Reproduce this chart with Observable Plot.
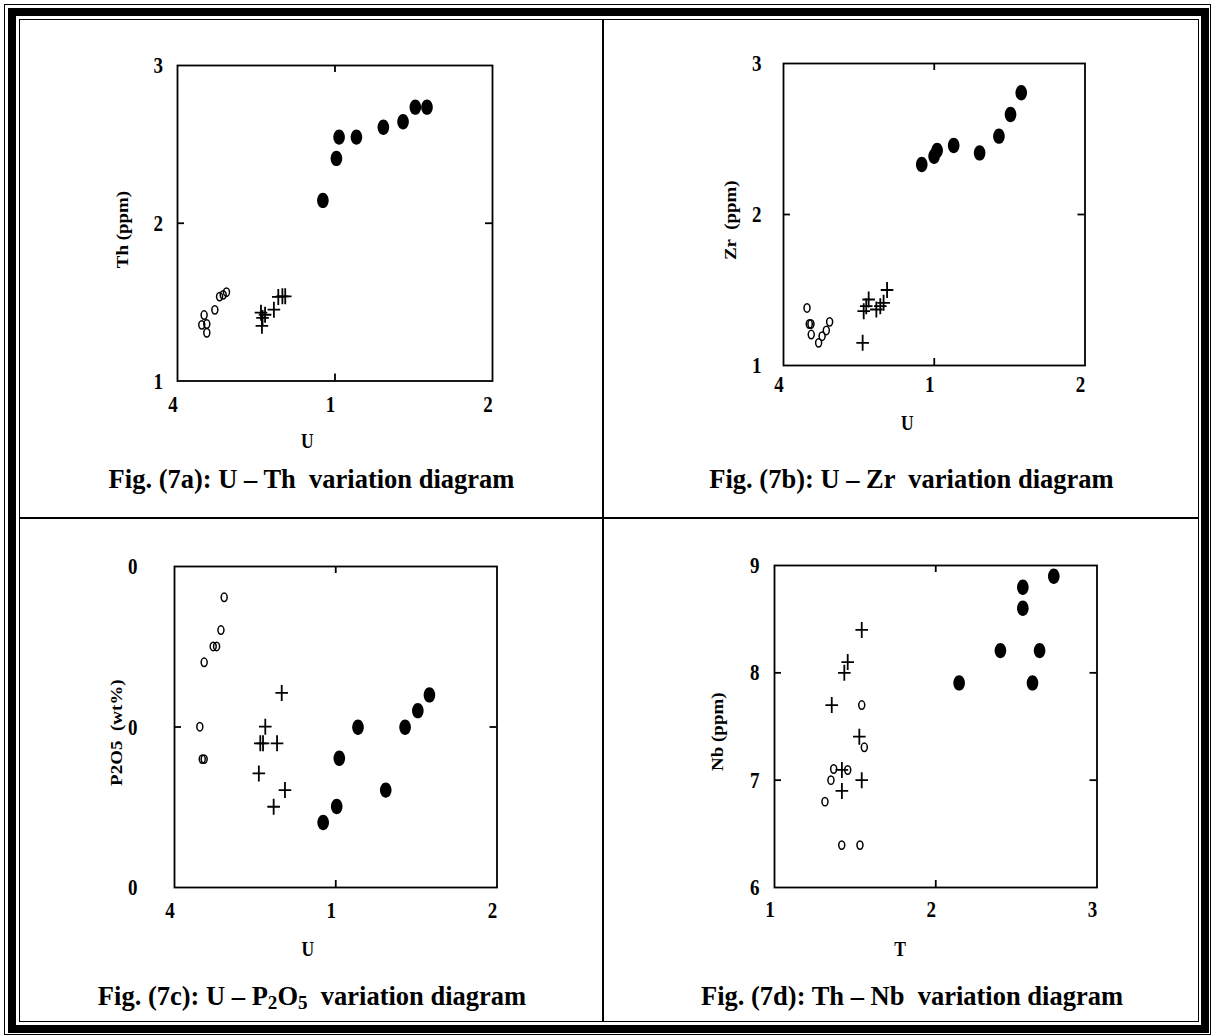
<!DOCTYPE html>
<html>
<head>
<meta charset="utf-8">
<script src="https://cdn.jsdelivr.net/npm/d3@7"></script>
<script src="https://cdn.jsdelivr.net/npm/@observablehq/plot@0.6"></script>
<style>
  html, body { margin: 0; padding: 0; background: #fff; }
  #page { position: relative; width: 1211px; height: 1035px; overflow: hidden; background: #fff;
          font-family: "Liberation Serif", "Times New Roman", serif; font-weight: bold; color: #000; }
  .ln { position: absolute; box-sizing: border-box; border-style: solid; border-color: #000; z-index: 5; }
  .bar { position: absolute; background: #000; z-index: 5; }
  .cap { position: absolute; font-size: 26.5px; line-height: 1; white-space: pre; transform: translateX(-50%); }
  .cap sub { font-size: 0.72em; vertical-align: -0.22em; line-height: 0; }
  .panel { position: absolute; }
  .panel svg { max-width: none; display: block; overflow: visible; }
  .panel text { white-space: pre; }
</style>
</head>
<body>
<div id="page">
  <div class="ln" style="left:4px;top:4px;width:1207px;height:1031px;border-width:1.5px;"></div>
  <div class="ln" style="left:7.5px;top:7.5px;width:1201px;height:1025.5px;border-width:8.5px;"></div>
  <div class="ln" style="left:18.5px;top:18.5px;width:1180px;height:1003.5px;border-width:1.5px;"></div>
  <div class="bar" style="left:601.5px;top:19px;width:2px;height:1002px;"></div>
  <div class="bar" style="left:19px;top:517px;width:1179px;height:2px;"></div>

  <div class="cap" style="left:311.5px;top:465.5px;">Fig. (7a): U – Th  variation diagram</div>
  <div class="cap" style="left:911.5px;top:465.5px;">Fig. (7b): U – Zr  variation diagram</div>
  <div class="cap" style="left:312px;top:982.5px;">Fig. (7c): U – P<sub>2</sub>O<sub>5</sub>  variation diagram</div>
  <div class="cap" style="left:912px;top:982.5px;">Fig. (7d): Th – Nb  variation diagram</div>
</div>
<script>
// ---------- Tick values and their printed labels ----------
const uTickValues = [0, 1, 2];
const uTickLabels = ["4", "1", "2"];
const thTickValues = [1, 2, 3];
const thTickLabels = ["1", "2", "3"];
const zrTickValues = [1, 2, 3];
const zrTickLabels = ["1", "2", "3"];
const p2o5TickValues = [0, 1, 2];
const p2o5TickLabels = ["0", "0", "0"];
const thXTickValues = [1, 2, 3];
const thXTickLabels = ["1", "2", "3"];
const nbTickValues = [6, 7, 8, 9];
const nbTickLabels = ["6", "7", "8", "9"];

// ---------- Fig. 7a : U – Th ----------
const a_solid_U  = [0.923, 1.009, 1.026, 1.136, 1.307, 1.432, 1.510, 1.584];
const a_solid_Th = [2.145, 2.411, 2.546, 2.546, 2.609, 2.643, 2.736, 2.736];
const a_open_U   = [0.169, 0.154, 0.186, 0.186, 0.237, 0.267, 0.290, 0.311];
const a_open_Th  = [1.418, 1.356, 1.361, 1.306, 1.451, 1.535, 1.546, 1.563];
const a_cross_U  = [0.530, 0.556, 0.540, 0.536, 0.612, 0.640, 0.666, 0.684];
const a_cross_Th = [1.433, 1.420, 1.400, 1.350, 1.452, 1.533, 1.537, 1.537];

// ---------- Fig. 7b : U – Zr ----------
const b_solid_U  = [0.917, 0.999, 1.019, 1.129, 1.301, 1.429, 1.506, 1.577];
const b_solid_Zr = [2.331, 2.386, 2.424, 2.457, 2.408, 2.519, 2.662, 2.806];
const b_open_U   = [0.156, 0.171, 0.182, 0.184, 0.233, 0.256, 0.284, 0.306];
const b_open_Zr  = [1.381, 1.275, 1.275, 1.205, 1.150, 1.194, 1.232, 1.289];
const b_cross_U  = [0.525, 0.532, 0.549, 0.565, 0.616, 0.642, 0.664, 0.687];
const b_cross_Zr = [1.150, 1.360, 1.393, 1.437, 1.371, 1.393, 1.415, 1.500];

// ---------- Fig. 7c : U – P2O5 ----------
const c_solid_U    = [0.922, 1.006, 1.022, 1.138, 1.310, 1.430, 1.509, 1.581];
const c_solid_P2O5 = [0.405, 0.505, 0.805, 0.998, 0.607, 0.998, 1.102, 1.200];
const c_open_U     = [0.308, 0.288, 0.240, 0.261, 0.184, 0.157, 0.172, 0.184];
const c_open_P2O5  = [1.808, 1.604, 1.502, 1.502, 1.403, 1.002, 0.800, 0.800];
const c_cross_U    = [0.665, 0.563, 0.532, 0.549, 0.636, 0.523, 0.685, 0.615];
const c_cross_P2O5 = [1.212, 1.002, 0.898, 0.898, 0.898, 0.711, 0.607, 0.503];

// ---------- Fig. 7d : Th – Nb ----------
const d_solid_Th = [2.145, 2.401, 2.540, 2.540, 2.644, 2.600, 2.732];
const d_solid_Nb = [7.906, 8.207, 8.798, 8.602, 8.207, 7.906, 8.900];
const d_open_Th  = [1.541, 1.557, 1.367, 1.454, 1.350, 1.313, 1.417, 1.530];
const d_open_Nb  = [7.700, 7.306, 7.104, 7.095, 7.000, 6.800, 6.395, 6.395];
const d_cross_Th = [1.541, 1.454, 1.433, 1.355, 1.526, 1.418, 1.541, 1.418];
const d_cross_Nb = [8.400, 8.100, 8.000, 7.700, 7.405, 7.095, 7.000, 6.900];

// ---------- symbols (vertically stretched like the source figure) ----------
function ellipseSymbol(rx, ry) {
  return {
    draw(ctx) {
      const k = 0.5523;
      ctx.moveTo(rx, 0);
      ctx.bezierCurveTo(rx, ry * k, rx * k, ry, 0, ry);
      ctx.bezierCurveTo(-rx * k, ry, -rx, ry * k, -rx, 0);
      ctx.bezierCurveTo(-rx, -ry * k, -rx * k, -ry, 0, -ry);
      ctx.bezierCurveTo(rx * k, -ry, rx, -ry * k, rx, 0);
      ctx.closePath();
    }
  };
}
function crossSymbol(hw, hh) {
  return {
    draw(ctx) {
      ctx.moveTo(-hw, 0); ctx.lineTo(hw, 0);
      ctx.moveTo(0, -hh); ctx.lineTo(0, hh);
    }
  };
}
const solidSym = ellipseSymbol(5.8, 7.7);
const openSym = ellipseSymbol(3.0, 4.2);
const crossSym = crossSymbol(6.3, 8);

const FONT = '"Liberation Serif", "Times New Roman", serif';
const mL = 90, mR = 20, mT = 20, mB = 80;
const TICK = 7;

function panel(cfg) {
  const W = cfg.w + mL + mR, H = cfg.h + mT + mB;
  const fmt = (vals, labs) => (d) => labs[vals.indexOf(d)];
  const plot = Plot.plot({
    width: W, height: H,
    marginLeft: mL, marginRight: mR, marginTop: mT, marginBottom: mB,
    x: {domain: cfg.xDomain, axis: null},
    y: {domain: cfg.yDomain, axis: null},
    style: {fontFamily: FONT, fontWeight: "bold", fontSize: "19px", color: "#000", background: "transparent", overflow: "visible"},
    marks: [
      // inward middle ticks on all four sides
      Plot.tickX(cfg.xMid, {x: (d) => d, insetTop: cfg.h - TICK, stroke: "#000", strokeWidth: 1.8}),
      Plot.tickX(cfg.xMid, {x: (d) => d, insetBottom: cfg.h - TICK, stroke: "#000", strokeWidth: 1.8}),
      Plot.tickY(cfg.yMid, {y: (d) => d, insetRight: cfg.w - TICK, stroke: "#000", strokeWidth: 1.8}),
      Plot.tickY(cfg.yMid, {y: (d) => d, insetLeft: cfg.w - TICK, stroke: "#000", strokeWidth: 1.8}),
      // tick labels
      Plot.axisX(cfg.xTicks, {anchor: "bottom", tickSize: 0, tickPadding: cfg.xPad, dx: -4.5,
        tickFormat: fmt(cfg.xTicks, cfg.xLabels), label: null, fontSize: 19}),
      Plot.axisY(cfg.yTicks, {anchor: "left", tickSize: 0, tickPadding: cfg.yPad,
        tickFormat: fmt(cfg.yTicks, cfg.yLabels), label: null, fontSize: 19}),
      // axis titles
      Plot.text([cfg.xTitle], {frameAnchor: "bottom", textAnchor: "middle", lineAnchor: "middle",
        dx: cfg.xtDx, dy: cfg.xtDy, fontSize: 17.5, fontWeight: "bold"}),
      Plot.text([cfg.yTitle], {frameAnchor: "left", textAnchor: "middle", lineAnchor: "middle", rotate: -90,
        dx: cfg.ytDx, dy: cfg.ytDy, fontSize: 16.5, fontWeight: "bold"}),
      Plot.frame({stroke: "#000", strokeWidth: 1.8}),
      // data
      Plot.dot(d3.zip(cfg.open[0], cfg.open[1]), {symbol: openSym, fill: "none", stroke: "#000", strokeWidth: 1.5}),
      Plot.dot(d3.zip(cfg.cross[0], cfg.cross[1]), {symbol: crossSym, fill: "none", stroke: "#000", strokeWidth: 1.8}),
      Plot.dot(d3.zip(cfg.solid[0], cfg.solid[1]), {symbol: solidSym, fill: "#000", stroke: "none"})
    ]
  });
  // the source figure's text is stretched vertically on the page
  plot.querySelectorAll("text").forEach((t) => {
    const tr = t.getAttribute("transform") || "";
    const rotated = t.textContent === cfg.yTitle || /rotate/.test(tr);
    t.setAttribute("transform", tr + (rotated ? " scale(1.15,1)" : " scale(1,1.25)"));
  });
  const div = document.createElement("div");
  div.className = "panel";
  div.style.left = (cfg.left - mL) + "px";
  div.style.top = (cfg.top - mT) + "px";
  div.style.width = W + "px";
  div.style.height = H + "px";
  div.appendChild(plot);
  document.getElementById("page").appendChild(div);
}

panel({
  left: 177, top: 64.5, w: 315, h: 315.5,
  xDomain: [0, 2], yDomain: [1, 3],
  xTicks: uTickValues, xLabels: uTickLabels, yTicks: thTickValues, yLabels: thTickLabels,
  xMid: [1], yMid: [2], xPad: 14, yPad: 14.5,
  xTitle: "U", xtDx: -27.6, xtDy: 60,
  yTitle: "Th (ppm)", ytDx: -55, ytDy: 6.3,
  solid: [a_solid_U, a_solid_Th], open: [a_open_U, a_open_Th], cross: [a_cross_U, a_cross_Th]
});
panel({
  left: 783, top: 62.5, w: 301.5, h: 302,
  xDomain: [0, 2], yDomain: [1, 3],
  xTicks: uTickValues, xLabels: uTickLabels, yTicks: zrTickValues, yLabels: zrTickLabels,
  xMid: [1], yMid: [2], xPad: 10, yPad: 22,
  xTitle: "U", xtDx: -26.9, xtDy: 57.4,
  yTitle: "Zr  (ppm)", ytDx: -53, ytDy: 5.7,
  solid: [b_solid_U, b_solid_Zr], open: [b_open_U, b_open_Zr], cross: [b_cross_U, b_cross_Zr]
});
panel({
  left: 174, top: 566, w: 322.5, h: 321,
  xDomain: [0, 2], yDomain: [0, 2],
  xTicks: uTickValues, xLabels: uTickLabels, yTicks: p2o5TickValues, yLabels: p2o5TickLabels,
  xMid: [1], yMid: [1], xPad: 14, yPad: 37,
  xTitle: "U", xtDx: -28, xtDy: 61.3,
  yTitle: "P2O5  (wt%)", ytDx: -58, ytDy: 5.7,
  solid: [c_solid_U, c_solid_P2O5], open: [c_open_U, c_open_P2O5], cross: [c_cross_U, c_cross_P2O5]
});
panel({
  left: 774, top: 565, w: 322.5, h: 322,
  xDomain: [1, 3], yDomain: [6, 9],
  xTicks: thXTickValues, xLabels: thXTickLabels, yTicks: nbTickValues, yLabels: nbTickLabels,
  xMid: [2], yMid: [7, 8], xPad: 12.5, yPad: 15,
  xTitle: "T", xtDx: -35.6, xtDy: 61.3,
  yTitle: "Nb (ppm)", ytDx: -56.6, ytDy: 5.2,
  solid: [d_solid_Th, d_solid_Nb], open: [d_open_Th, d_open_Nb], cross: [d_cross_Th, d_cross_Nb]
});
</script>
</body>
</html>
